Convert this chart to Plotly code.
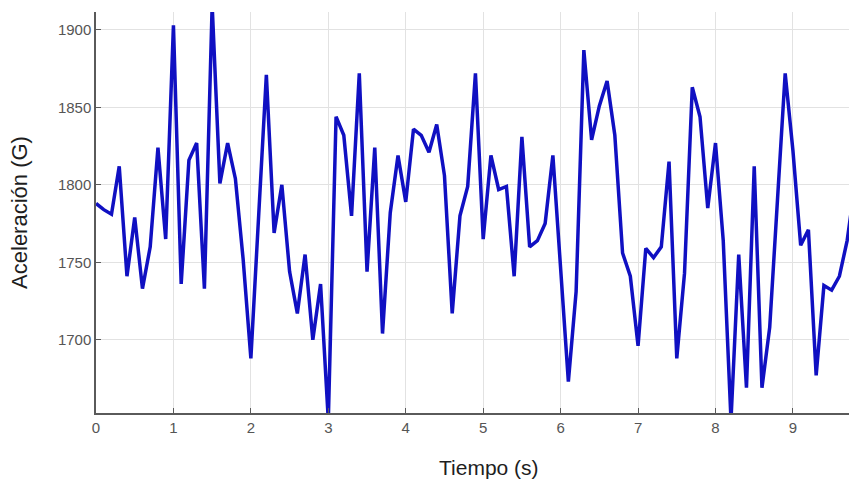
import plotly.graph_objects as go

tiempo = [round(i * 0.1, 1) for i in range(99)]
aceleracion = [
    1788, 1784, 1781, 1812, 1741, 1779, 1733, 1760, 1824, 1765,
    1903, 1736, 1816, 1827, 1733, 1916, 1801, 1827, 1804, 1752,
    1688, 1780, 1871, 1769, 1800, 1744, 1717, 1755, 1700, 1736,
    1648, 1844, 1832, 1780, 1872, 1744, 1824, 1704, 1782, 1819,
    1789, 1836, 1832, 1821, 1839, 1806, 1717, 1780, 1799, 1872,
    1765, 1819, 1797, 1799, 1741, 1831, 1760, 1764, 1775, 1819,
    1749, 1673, 1731, 1887, 1829, 1851, 1867, 1832, 1756, 1741,
    1696, 1759, 1753, 1760, 1815, 1688, 1743, 1863, 1844, 1785,
    1827, 1764, 1648, 1755, 1669, 1812, 1669, 1708, 1790, 1872,
    1822, 1761, 1771, 1677, 1735, 1732, 1741, 1764, 1800,
]
y_ticks = [1700, 1750, 1800, 1850, 1900]
x_ticks = [0, 1, 2, 3, 4, 5, 6, 7, 8, 9]
x_title = "Tiempo (s)"
y_title = "Aceleración (G)"

fig = go.Figure(
    go.Scatter(
        x=tiempo, y=aceleracion, mode="lines",
        line=dict(color="#1010c2", width=3.5),
        showlegend=False, hoverinfo="skip",
    )
)

font_family = "Liberation Sans, Arial, sans-serif"
fig.update_layout(
    width=849, height=484,
    margin=dict(l=96, r=0, t=12, b=71, autoexpand=False),
    paper_bgcolor="white", plot_bgcolor="white",
    font=dict(family=font_family, color="#555555", size=15),
    annotations=[
        dict(
            text=x_title, xref="paper", yref="paper", x=0.522, y=0,
            xanchor="center", yanchor="middle", yshift=-54, showarrow=False,
            font=dict(size=21, color="#1e1e1e"),
        )
    ],
)
fig.update_xaxes(
    range=[0, 9.724], automargin=False,
    tickmode="array", tickvals=x_ticks, ticktext=[str(v) for v in x_ticks],
    showgrid=True, gridcolor="#e2e2e2", gridwidth=1,
    showline=True, linecolor="#5a5a5a", linewidth=1.5,
    ticks="inside", ticklen=5, tickcolor="#5a5a5a",
    zeroline=False,
    tickfont=dict(size=15, color="#555555"),
)
fig.update_yaxes(
    range=[1652.7, 1911.6], automargin=False,
    tickmode="array", tickvals=y_ticks, ticktext=[str(v) for v in y_ticks],
    showgrid=True, gridcolor="#e2e2e2", gridwidth=1,
    showline=True, linecolor="#5a5a5a", linewidth=1.5,
    ticks="inside", ticklen=5, tickcolor="#5a5a5a",
    zeroline=False,
    tickfont=dict(size=15, color="#555555"),
    title=dict(text=y_title, font=dict(size=22, color="#1e1e1e"), standoff=24),
)

fig.write_html(
    "out.html",
    config={"displayModeBar": False},
    post_script="document.body.style.margin='0';document.body.style.overflow='hidden';",
)
